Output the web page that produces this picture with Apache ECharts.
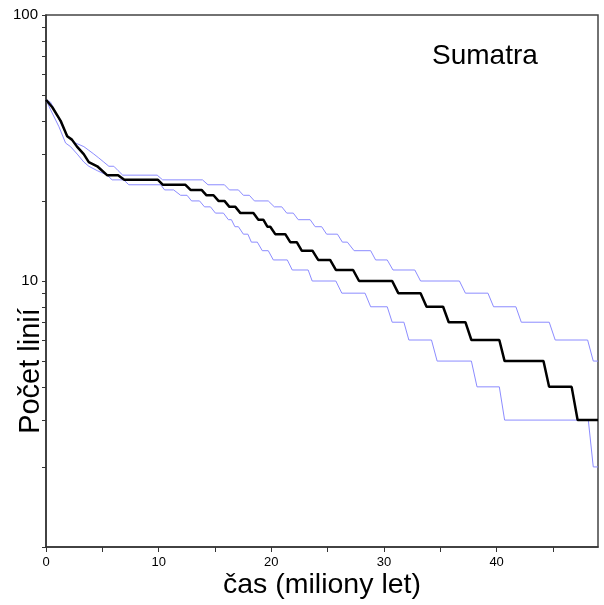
<!DOCTYPE html>
<html>
<head>
<meta charset="utf-8">
<script src="https://cdn.jsdelivr.net/npm/echarts@6/dist/echarts.min.js"></script>
<style>
html,body{margin:0;padding:0;background:#fff;}
#chart{width:604px;height:605px;}
</style>
</head>
<body>
<div id="chart"></div>
<script>
// Lineage-through-time data (time in million years, number of lineages)
var blackTime = [0,0.56,1.3,1.88,2.3,2.75,3.35,3.8,4.55,5.42,6.4,6.95,9.94,10.38,12.38,12.83,13.81,14.25,14.87,15.31,15.84,16.28,16.81,17.26,18.41,18.85,19.29,19.65,19.91,20.35,21.24,21.68,22.26,22.70,23.65,24.16,25.22,25.73,27.26,27.79,30.73,31.27,33.25,33.78,35.25,35.75,37.23,37.76,40.24,40.71,44.16,44.66,46.66,47.19,49];
var blackCount = [48,45,40,35,34,32,30,28,27,25,25,24,24,23,23,22,22,21,21,20,20,19,19,18,18,17,17,16,16,15,15,14,14,13,13,12,12,11,11,10,10,9,9,8,8,7,7,6,6,5,5,4,4,3,3];

var upperTime = [0,0.15,0.41,0.86,1.59,2.18,2.63,3.36,3.8,4.25,4.69,5.13,5.58,6.02,6.4,6.81,9.87,10.35,13.89,14.38,15.84,16.28,17.08,17.52,18.05,18.50,19.73,20.27,20.93,21.37,21.95,22.39,23.45,23.89,24.47,24.91,25.87,26.31,26.75,27.35,28.82,29.26,30.29,30.80,32.74,33.25,36.70,37.23,39.23,39.73,41.71,42.19,44.67,45.20,48.08,48.58,49];
var upperCount = [48,48,47,43,37,34,33,32,31,30,29,28,27,27,26,25,25,24,24,23,23,22,22,21,21,20,20,19,19,18,18,17,17,16,16,15,15,14,14,13,13,12,12,11,11,10,10,9,9,8,8,7,7,6,6,5,5];

var lowerTime = [0,0.41,1.15,1.74,2.18,2.77,3.36,3.8,4.54,5.42,5.87,6.9,7.35,10.18,10.53,11.33,11.95,12.52,12.92,13.63,14.07,14.60,15.04,15.75,16.19,16.46,16.77,17.08,17.52,17.92,18.23,18.76,19.20,19.73,20.18,21.42,21.86,23.27,23.63,25.73,26.26,28.32,28.82,30.29,30.73,31.77,32.21,34.22,34.72,37.76,38.26,40.24,40.71,48.14,48.58,49];
var lowerCount = [48,44,38,33,32,30,28,27,26,25,24,24,23,23,22,22,21,21,20,20,19,19,18,18,17,17,16,16,15,15,14,14,13,13,12,12,11,11,10,10,9,9,8,8,7,7,6,6,5,5,4,4,3,3,2,2];

var xLabelValues = [0,10,20,30,40];
var yLabelValues = [10,100];
var yTickValues = [1,2,3,4,5,6,7,8,9,10,20,30,40,50,60,70,80,90,100];

var titleText = 'Sumatra';
var xName = 'čas (miliony let)';
var yName = 'Počet linií';

function zip(a, b) { var r = []; for (var i = 0; i < a.length; i++) r.push([a[i], b[i]]); return r; }

var FONT = "'Liberation Sans', Arial, sans-serif";
var chart = echarts.init(document.getElementById('chart'), null, {renderer: 'canvas'});
chart.setOption({
  animation: false,
  backgroundColor: '#ffffff',
  title: {
    text: titleText, left: 432, top: 42, padding: 0,
    textStyle: {fontSize: 28, fontWeight: 'normal', color: '#000', fontFamily: FONT}
  },
  grid: {left: 46, top: 15, right: 6, bottom: 58, containLabel: false, outerBoundsMode: 'none',
    show: true, borderColor: '#444', borderWidth: 1.5, backgroundColor: 'transparent'},
  xAxis: {
    type: 'value', min: 0, max: 49, interval: 5,
    name: xName, nameLocation: 'middle', nameGap: 24, nameMoveOverlap: false,
    nameTextStyle: {fontSize: 28.5, color: '#000', fontFamily: FONT},
    axisLine: {show: true, lineStyle: {color: '#333', width: 1.5}},
    axisTick: {show: true, length: 5, inside: false, lineStyle: {color: '#333'}},
    axisLabel: {
      show: true, margin: 9, fontSize: 13, color: '#000',
      fontFamily: "'Liberation Sans Narrow', 'Liberation Sans', Arial, sans-serif",
      formatter: function (v) { return xLabelValues.indexOf(v) >= 0 ? String(v) : ''; },
      showMaxLabel: false
    },
    splitLine: {show: false}
  },
  yAxis: {
    type: 'log', logBase: 10, min: 1, max: 100,
    name: yName, nameLocation: 'middle', nameGap: 1, nameRotate: 90, nameMoveOverlap: false,
    nameTextStyle: {fontSize: 29, color: '#000', fontFamily: FONT, padding: [0, 180, 0, 0]},
    axisLine: {show: true, lineStyle: {color: '#333', width: 1.5}},
    axisTick: {show: true, length: 4, customValues: yTickValues, lineStyle: {color: '#333'}},
    axisLabel: {
      show: true, margin: 8, fontSize: 15, color: '#000', fontFamily: FONT,
      customValues: yLabelValues,
      formatter: function (v) { return yLabelValues.indexOf(v) >= 0 ? String(v) : ''; }
    },
    splitLine: {show: false}
  },
  series: [
    {type: 'line', data: zip(upperTime, upperCount), symbol: 'none', lineStyle: {color: '#8c8cff', width: 1}, z: 2},
    {type: 'line', data: zip(lowerTime, lowerCount), symbol: 'none', lineStyle: {color: '#8c8cff', width: 1}, z: 2},
    {type: 'line', data: zip(blackTime, blackCount), symbol: 'none', lineStyle: {color: '#000', width: 2.5}, z: 3}
  ]
});
</script>
</body>
</html>
